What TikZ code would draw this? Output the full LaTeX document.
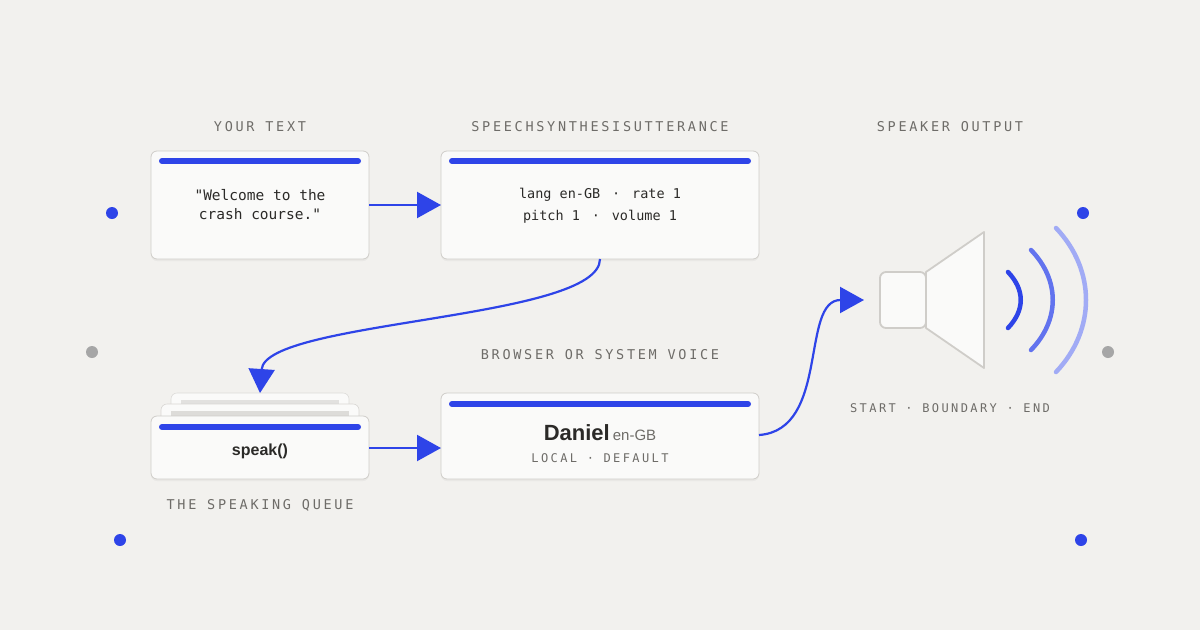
\documentclass[tikz,border=0pt]{standalone}
\usepackage{fontspec}
\setmainfont{Liberation Sans}
\newfontfamily\monof{DejaVu Sans Mono}
\newfontfamily\labf[LetterSpace=20]{DejaVu Sans Mono}
\usetikzlibrary{arrows.meta,shadows}
\definecolor{bg}{HTML}{F2F1EE}
\definecolor{bl}{HTML}{2E44E8}
\definecolor{bx}{HTML}{FAFAF9}
\definecolor{bd}{HTML}{CFCDC9}
\definecolor{lab}{HTML}{6E6C68}
\definecolor{txt}{HTML}{2B2A28}
\begin{document}
\begin{tikzpicture}[x=1pt,y=-1pt,
 card/.style={draw=bd,fill=bx,rounded corners=6pt,line width=0.8pt,drop shadow={shadow xshift=0pt,shadow yshift=-2pt,opacity=0.08}},
 bar/.style={bl,line width=6pt,line cap=round},
 lbl/.style={text=lab,font=\labf\fontsize{13.5}{15}\selectfont},
 mono/.style={text=txt,font=\monof\fontsize{13.5}{22}\selectfont,align=center},
 conn/.style={bl,line width=2.2pt,-{Triangle[length=24pt,width=26pt]}},
 dotb/.style={fill=bl,circle,inner sep=0pt,minimum size=12pt},
 dotg/.style={fill=gray!70,circle,inner sep=0pt,minimum size=12pt}]
\fill[bg] (0,0) rectangle (1200,630);
\useasboundingbox (0,0) rectangle (1200,630);
% dots
\node[dotb] (d1) at (112,213) {};
\node[dotb] (d2) at (1083,213) {};
\node[dotb] (d3) at (120,540) {};
\node[dotb] (d4) at (1081,540) {};
\node[dotg] (d5) at (92,352) {};
\node[dotg] (d6) at (1108,352) {};
% labels
\node[lbl] (l1) at (260,127) {YOUR TEXT};
\node[lbl] (l2) at (600,127) {SPEECHSYNTHESISUTTERANCE};
\node[lbl] (l3) at (950,127) {SPEAKER OUTPUT};
\node[lbl] (l4) at (600,355) {BROWSER OR SYSTEM VOICE};
\node[lbl] (l5) at (260,505) {THE SPEAKING QUEUE};
\node[lbl,font=\labf\fontsize{12}{14}\selectfont] (l6) at (950,408) {START · BOUNDARY · END};
% boxes
\draw[card] (151,151) rectangle (369,259);
\draw[bar] (162,161) -- (358,161);
\node[mono,font=\monof\fontsize{14.5}{19}\selectfont] (t1) at (260,205) {"Welcome to the\\crash course."};
\coordinate (a1) at (369,205);
\draw[card] (441,151) rectangle (759,259);
\draw[bar] (452,161) -- (748,161);
\node[mono] (t2) at (600,206) {lang en-GB \;·\; rate 1\\pitch 1 \;·\; volume 1};
\coordinate (a2) at (441,205);
\coordinate (b1) at (600,259);
% queue
\draw[draw=bd!70,fill=bx,rounded corners=6pt,line width=0.6pt] (171,393) rectangle (349,430);
\fill[bd!60] (181,400) rectangle (339,405);
\draw[draw=bd!80,fill=bx,rounded corners=6pt,line width=0.6pt] (161,404) rectangle (359,440);
\fill[bd!70] (171,411) rectangle (349,416);
\draw[card] (151,416) rectangle (369,479);
\draw[bar] (162,427) -- (358,427);
\node[text=txt,font=\bfseries\fontsize{16}{18}\selectfont] (t3) at (260,451) {speak()};
\coordinate (b2) at (260,393);
\coordinate (c1) at (369,448);
% voice
\draw[card] (441,393) rectangle (759,479);
\draw[bar] (452,404) -- (748,404);
\node[text=txt,inner sep=0pt] (t4) at (600,433) {{\bfseries\fontsize{22}{24}\selectfont Daniel}\hspace{3pt}{\color{lab}\fontsize{15}{18}\selectfont en-GB}};
\node[lbl,font=\labf\fontsize{12}{14}\selectfont] (t5) at (600,458) {LOCAL · DEFAULT};
\coordinate (c2) at (441,448);
\coordinate (e1) at (759,435);
\coordinate (e2) at (864,300);
% connectors
\draw[conn] (a1) -- (a2);
\draw[conn] (b1) .. controls (600,320) and (265,320) .. (b2);
\draw[conn] (c1) -- (c2);
\draw[conn] (e1) .. controls (830,430) and (800,300) .. (e2);
% speaker
\draw[draw=bd,fill=bx,line width=1.8pt,line join=round] (926,272) -- (984,232) -- (984,368) -- (926,328) -- cycle;
\draw[draw=bd,fill=bx,line width=1.8pt,rounded corners=6pt] (880,272) rectangle (926,328);
\draw[bl,line width=4.5pt,line cap=round] (1008,272) .. controls (1025,290) and (1025,310) .. (1008,328);
\draw[bl!75,line width=4.5pt,line cap=round] (1031,250) .. controls (1060,280) and (1060,320) .. (1031,350);
\draw[bl!45,line width=4.5pt,line cap=round] (1056,228) .. controls (1096,270) and (1096,330) .. (1056,372);
\end{tikzpicture}
\end{document}
